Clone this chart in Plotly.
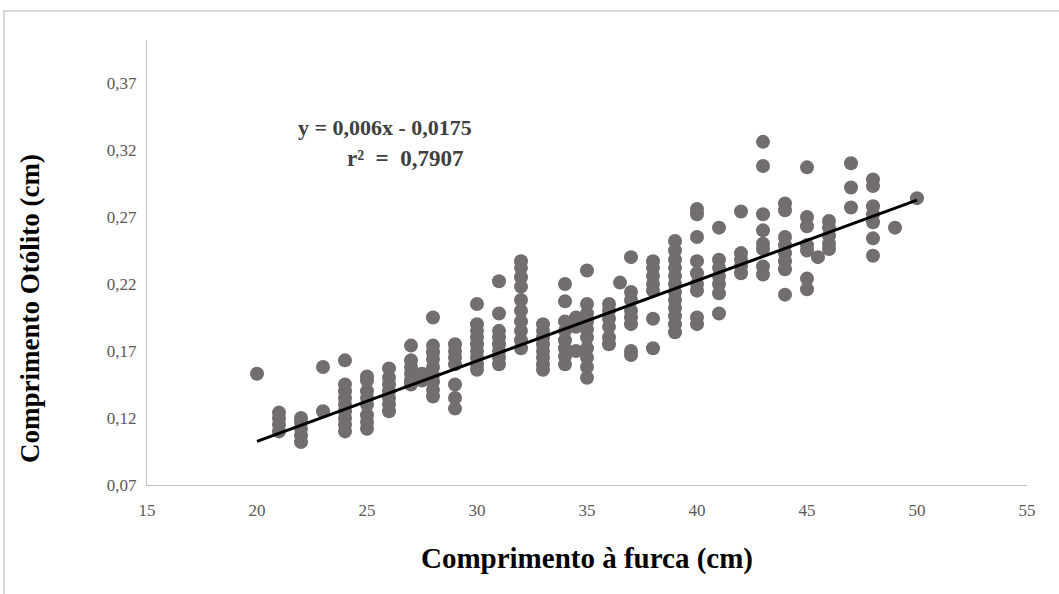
import plotly.graph_objects as go

# Data (fork length cm, otolith length cm)
cols = {
    20: [0.153],
    21: [0.124, 0.120, 0.115, 0.110],
    22: [0.120, 0.117, 0.112, 0.107, 0.102],
    23: [0.158, 0.125],
    24: [0.163, 0.145, 0.140, 0.135, 0.130, 0.125, 0.120, 0.115, 0.110],
    25: [0.151, 0.148, 0.140, 0.135, 0.130, 0.122, 0.117, 0.112],
    26: [0.157, 0.150, 0.145, 0.140, 0.135, 0.130, 0.125],
    27: [0.174, 0.163, 0.158, 0.153, 0.148, 0.145],
    27.5: [0.153, 0.148],
    28: [0.195, 0.174, 0.169, 0.164, 0.158, 0.152, 0.147, 0.141, 0.136],
    29: [0.175, 0.170, 0.165, 0.160, 0.145, 0.135, 0.127],
    30: [0.205, 0.190, 0.185, 0.180, 0.175, 0.170, 0.165, 0.160, 0.156],
    31: [0.222, 0.198, 0.185, 0.180, 0.175, 0.170, 0.165, 0.160],
    32: [0.237, 0.232, 0.225, 0.218, 0.208, 0.200, 0.192, 0.185, 0.178, 0.172],
    33: [0.190, 0.185, 0.180, 0.175, 0.170, 0.165, 0.160, 0.156],
    34: [0.220, 0.207, 0.192, 0.185, 0.178, 0.172, 0.166, 0.160],
    34.5: [0.195, 0.188, 0.170],
    35: [0.230, 0.205, 0.198, 0.192, 0.186, 0.180, 0.172, 0.165, 0.158, 0.150],
    36: [0.205, 0.200, 0.194, 0.188, 0.180, 0.175],
    36.5: [0.221],
    37: [0.240, 0.214, 0.208, 0.200, 0.195, 0.190, 0.170, 0.167],
    38: [0.237, 0.232, 0.226, 0.220, 0.215, 0.194, 0.172],
    39: [0.252, 0.245, 0.238, 0.232, 0.226, 0.220, 0.214, 0.208, 0.202, 0.196, 0.190, 0.184],
    40: [0.276, 0.272, 0.255, 0.237, 0.228, 0.220, 0.215, 0.195, 0.190],
    41: [0.262, 0.238, 0.232, 0.226, 0.220, 0.213, 0.198],
    42: [0.274, 0.243, 0.238, 0.233, 0.228],
    43: [0.326, 0.308, 0.272, 0.260, 0.250, 0.246, 0.233, 0.227],
    44: [0.280, 0.275, 0.255, 0.249, 0.243, 0.237, 0.231, 0.212],
    45: [0.307, 0.270, 0.263, 0.249, 0.245, 0.224, 0.216],
    45.5: [0.240],
    46: [0.267, 0.262, 0.256, 0.250, 0.246],
    47: [0.310, 0.292, 0.277],
    48: [0.298, 0.293, 0.278, 0.272, 0.266, 0.254, 0.241],
    49: [0.262],
    50: [0.284],
}
x_vals = [x for x, ys in cols.items() for _ in ys]
y_vals = [y for ys in cols.values() for y in ys]

slope = 0.006
intercept = -0.0175
trend_x = [20, 50]
trend_y = [slope * x + intercept for x in trend_x]

x_ticks = [15, 20, 25, 30, 35, 40, 45, 50, 55]

fig = go.Figure()
fig.add_trace(go.Scatter(
    x=x_vals, y=y_vals, mode="markers",
    marker=dict(size=14, color="#726e6e", line=dict(width=0)),
    showlegend=False, hoverinfo="x+y"))
fig.add_trace(go.Scatter(
    x=trend_x, y=trend_y, mode="lines",
    line=dict(color="#000000", width=3), showlegend=False))

serif = "Liberation Serif, Times New Roman, serif"

fig.add_annotation(
    xref="paper", yref="paper", xanchor="center", yanchor="middle",
    x=(385 - 147) / 880, y=(485 - 128) / 445,
    text="<b>y = 0,006x - 0,0175</b>", showarrow=False,
    font=dict(family=serif, size=22, color="#404040"))
fig.add_annotation(
    xref="paper", yref="paper", xanchor="center", yanchor="middle",
    x=(405 - 147) / 880, y=(485 - 158) / 445,
    text="<b>r²  =  0,7907</b>", showarrow=False,
    font=dict(family=serif, size=23, color="#404040"))

# y-axis title (placed as in the reference, offset below the plot centre)
fig.add_annotation(
    xref="paper", yref="paper", xanchor="center", yanchor="middle",
    x=(30 - 147) / 880, y=(485 - 308) / 445, textangle=-90,
    text="<b>Comprimento Otólito (cm)</b>", showarrow=False,
    font=dict(family=serif, size=27, color="#000000"))

# outer chart frame
fig.add_shape(type="path", xref="paper", yref="paper",
              path=f"M {(4-147)/880} {(485-600)/445} L {(4-147)/880} {(485-11)/445} L {(1065-147)/880} {(485-11)/445}",
              line=dict(color="#d9d9d9", width=2))

fig.update_layout(
    width=1059, height=594,
    margin=dict(l=147, r=32, t=40, b=109),
    paper_bgcolor="white", plot_bgcolor="white",
    separators=",.",
    font=dict(family=serif, color="#595959", size=16),
    xaxis=dict(
        range=[15, 55], tickvals=x_ticks, ticktext=[str(v) for v in x_ticks],
        showgrid=False, zeroline=False, showline=True, linecolor="#bfbfbf", linewidth=1,
        ticks="", ticklabelstandoff=10, tickfont=dict(family=serif, size=17, color="#595959"),
        title=dict(text="<b>Comprimento à furca (cm)</b>", standoff=28,
                   font=dict(family=serif, size=29, color="#000000"))),
    yaxis=dict(
        range=[0.07, 0.402], tick0=0.07, dtick=0.05, tickformat=".2f",
        showgrid=False, zeroline=False, showline=True, linecolor="#bfbfbf", linewidth=1,
        ticks="", ticklabelstandoff=6, tickfont=dict(family=serif, size=17, color="#595959")),
)

fig.write_html("out.html")
